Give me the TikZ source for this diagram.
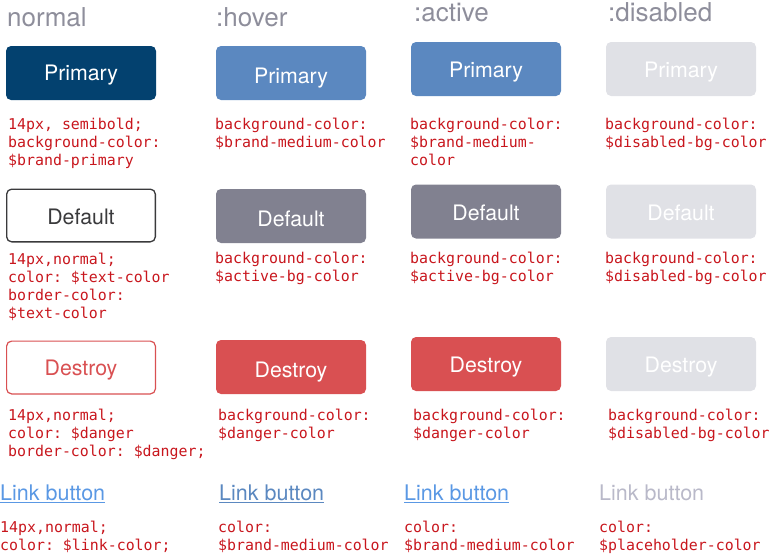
\documentclass[tikz,border=0pt]{standalone}
\usepackage{fontspec}
\setmainfont{TeX Gyre Heros}
\setmonofont{DejaVu Sans Mono}
\definecolor{hdrgray}{HTML}{8E8E9B}
\definecolor{brandprimary}{HTML}{03416F}
\definecolor{brandmedium}{HTML}{5B88C0}
\definecolor{disabledbg}{HTML}{E0E1E6}
\definecolor{activebg}{HTML}{818190}
\definecolor{textcol}{HTML}{3A3A3C}
\definecolor{danger}{HTML}{D95052}
\definecolor{codered}{HTML}{C8161D}
\definecolor{linkcol}{HTML}{5A98E4}
\definecolor{placeholder}{HTML}{B9B9C9}
\tikzset{
  hdr/.style={anchor=base west, inner sep=0pt, text=hdrgray, font=\fontsize{26pt}{30pt}\selectfont},
  btn/.style={minimum width=150pt, minimum height=54pt, rounded corners=5pt, inner sep=0pt,
    text height=17pt, text depth=0pt, font=\fontsize{21.3pt}{24pt}\selectfont},
  btnlow/.style={btn, text height=20pt},
  code/.style={anchor=north west, inner sep=0pt, align=left, text=codered,
    font=\fontsize{14.9pt}{18pt}\selectfont\ttfamily},
  linkbtn/.style={anchor=base west, inner sep=0pt, font=\fontsize{21.5pt}{24pt}\selectfont},
  uline/.style={line width=0.9pt}
}
\newcommand{\fs}{\rule{0pt}{12pt}}
\begin{document}
\begin{tikzpicture}[x=1pt,y=-1pt]
\useasboundingbox (0,0) rectangle (770,554);
% headers
\node[hdr] (h1) at (7,26) {normal};
\node[hdr] (h2) at (216,27) {:hover};
\node[hdr] (h3) at (414,21) {:active};
\node[hdr] (h4) at (608,21) {:disabled};
% row 1: primary
\node[btn, fill=brandprimary, text=white, text height=15.5pt] (p1) at (81,73) {Primary};
\node[btnlow, fill=brandmedium, text=white] (p2) at (291,73) {Primary};
\node[btn, fill=brandmedium, text=white] (p3) at (486,69) {Primary};
\node[btn, fill=disabledbg, text=white] (p4) at (681,69) {Primary};
\node[code] (c11) at (8,117.5) {\fs 14px, semibold;\\background-color:\\\$brand-primary};
\node[code] (c12) at (215,117.5) {\fs background-color:\\\$brand-medium-color};
\node[code] (c13) at (410,117.5) {\fs background-color:\\\$brand-medium-\\color};
\node[code] (c14) at (605,117.5) {\fs background-color:\\\$disabled-bg-color};
% row 2: default
\node[btn, draw=textcol, line width=1.3pt, fill=white, text=textcol, minimum width=148.7pt, minimum height=52.7pt] (d1) at (81,215.5) {Default};
\node[btnlow, fill=activebg, text=white] (d2) at (291,216) {Default};
\node[btn, fill=activebg, text=white] (d3) at (486,211.5) {Default};
\node[btn, fill=disabledbg, text=white] (d4) at (681,211.5) {Default};
\node[code] (c21) at (8,252) {\fs 14px,normal;\\color: \$text-color\\border-color:\\\$text-color};
\node[code] (c22) at (215,251.5) {\fs background-color:\\\$active-bg-color};
\node[code] (c23) at (410,251.5) {\fs background-color:\\\$active-bg-color};
\node[code] (c24) at (605,251.5) {\fs background-color:\\\$disabled-bg-color};
% row 3: destroy
\node[btn, draw=danger, line width=1.2pt, fill=white, text=danger, text height=16pt, minimum width=148.8pt, minimum height=52.8pt] (x1) at (81,367.5) {Destroy};
\node[btnlow, fill=danger, text=white] (x2) at (291,367) {Destroy};
\node[btn, fill=danger, text=white] (x3) at (486,364) {Destroy};
\node[btn, fill=disabledbg, text=white] (x4) at (681,364) {Destroy};
\node[code] (c31) at (8,408.5) {\fs 14px,normal;\\color: \$danger\\border-color: \$danger;};
\node[code] (c32) at (218,408.5) {\fs background-color:\\\$danger-color};
\node[code] (c33) at (413,408.5) {\fs background-color:\\\$danger-color};
\node[code] (c34) at (608,408.5) {\fs background-color:\\\$disabled-bg-color};
% row 4: link
\node[linkbtn, text=linkcol] (l1) at (0,500.5) {Link button};
\node[linkbtn, text=brandmedium] (l2) at (219,500.5) {Link button};
\node[linkbtn, text=linkcol] (l3) at (404,500.5) {Link button};
\node[linkbtn, text=placeholder] (l4) at (599,500.5) {Link button};
\draw[uline, linkcol] ([yshift=-1.8pt]l1.base west) -- ([yshift=-1.8pt]l1.base east);
\draw[uline, brandmedium] ([yshift=-1.8pt]l2.base west) -- ([yshift=-1.8pt]l2.base east);
\draw[uline, linkcol] ([yshift=-1.8pt]l3.base west) -- ([yshift=-1.8pt]l3.base east);
\node[code] (c41) at (0,520) {\fs 14px,normal;\\color: \$link-color;};
\node[code] (c42) at (218,520) {\fs color:\\\$brand-medium-color};
\node[code] (c43) at (404,520) {\fs color:\\\$brand-medium-color};
\node[code] (c44) at (599,520) {\fs color:\\\$placeholder-color};
\end{tikzpicture}
\end{document}
